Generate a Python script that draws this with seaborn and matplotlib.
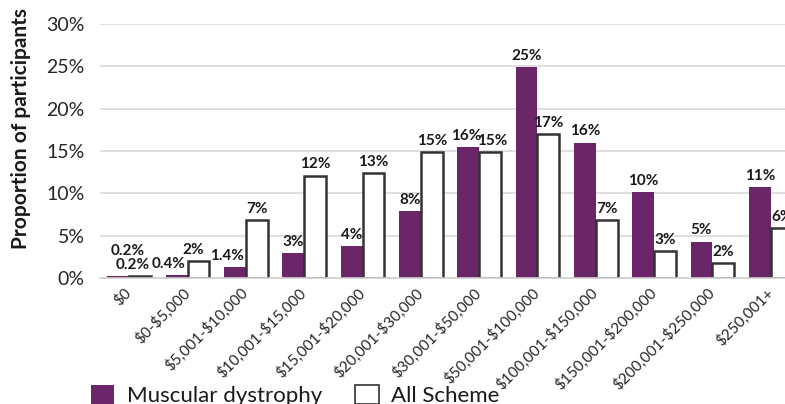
import pandas as pd
import matplotlib.pyplot as plt
import seaborn as sns
from matplotlib.patches import Patch
from matplotlib.ticker import FuncFormatter

categories = ['$0', '$0-$5,000', '$5,001-$10,000', '$10,001-$15,000', '$15,001-$20,000',
              '$20,001-$30,000', '$30,001-$50,000', '$50,001-$100,000', '$100,001-$150,000',
              '$150,001-$200,000', '$200,001-$250,000', '$250,001+']
muscular = [0.2, 0.3, 1.25, 2.95, 3.8, 7.9, 15.5, 24.9, 16.0, 10.1, 4.3, 10.7]
scheme = [0.2, 2.0, 6.85, 12.1, 12.4, 14.85, 14.85, 17.0, 6.8, 3.15, 1.75, 5.9]
muscular_labels = ['0.2%', '0.4%', '1.4%', '3%', '4%', '8%', '16%', '25%', '16%', '10%', '5%', '11%']
scheme_labels = ['0.2%', '2%', '7%', '12%', '13%', '15%', '15%', '17%', '7%', '3%', '2%', '6%']
series = ['Muscular dystrophy', 'All Scheme']

purple = '#6b2569'
df = pd.DataFrame({
    'Income': categories * 2,
    'Share': muscular + scheme,
    'Group': [series[0]] * len(categories) + [series[1]] * len(categories),
})

sns.set_style('whitegrid')
plt.rcParams['font.family'] = ['Lato', 'DejaVu Sans']
plt.rcParams['text.parse_math'] = False

fig = plt.figure(figsize=(7.85, 4.04), dpi=100)
ax = fig.add_axes([0.1274, 0.3119, 0.8917, 0.6287])

sns.barplot(data=df, x='Income', y='Share', hue='Group', order=categories,
            hue_order=series, palette={series[0]: purple, series[1]: 'white'},
            width=0.75, saturation=1, ax=ax)
ax.get_legend().remove()

for p in ax.containers[0]:
    p.set_edgecolor('none')
    p.set_linewidth(0)
for p in ax.containers[1]:
    p.set_edgecolor('#333333')
    p.set_linewidth(1.8)

# small nudges so the crowded labels don't overlap
nudge_m = {0: (7, 10), 1: (-6, 0), 2: (-6, 0), 6: (-1.5, 0)}
nudge_s = {0: (-5, 0), 1: (-4, 0), 6: (1.5, 0)}
anns_m = ax.bar_label(ax.containers[0], labels=muscular_labels, padding=3,
                      fontsize=11, fontweight='bold', color='#1a1a1a')
anns_s = ax.bar_label(ax.containers[1], labels=scheme_labels, padding=3,
                      fontsize=11, fontweight='bold', color='#1a1a1a')
for i, a in enumerate(anns_m):
    dx, dy = nudge_m.get(i, (0, 0))
    a.xyann = (dx, 3 + dy)
for i, a in enumerate(anns_s):
    dx, dy = nudge_s.get(i, (0, 0))
    a.xyann = (dx, 3 + dy)

ax.set_ylim(0, 30)
ax.set_xlim(-0.5, len(categories) - 0.5)
ax.set_yticks(range(0, 31, 5))
ax.yaxis.set_major_formatter(FuncFormatter(lambda v, _: f'{v:.0f}%'))
ax.grid(axis='y', color='#d9d9d9', linewidth=1.2)
ax.grid(axis='x', visible=False)
ax.set_axisbelow(True)
for s in ['left', 'right', 'top']:
    ax.spines[s].set_visible(False)
ax.spines['bottom'].set_color('#d0d0d0')
ax.spines['bottom'].set_linewidth(1.2)

ax.tick_params(axis='y', length=0, pad=11, labelsize=14, labelcolor='#262626')
ax.tick_params(axis='x', length=0, pad=9, labelsize=11, labelcolor='#262626')
plt.setp(ax.get_xticklabels(), rotation=45, ha='right', va='center', rotation_mode='anchor')

ax.set_xlabel('')
ax.set_ylabel('Proportion of participants', fontsize=15, fontweight='bold',
              color='#1a1a1a')
ax.yaxis.set_label_coords(-0.098, 0.59)

handles = [Patch(facecolor=purple, edgecolor='none'),
           Patch(facecolor='white', edgecolor='#333333', linewidth=1.2)]
fig.legend(handles, series, loc='lower left', bbox_to_anchor=(0.116, -0.006),
           ncol=2, frameon=False, fontsize=16, handlelength=1.05, handleheight=0.95,
           handletextpad=0.55, columnspacing=1.5, borderpad=0, borderaxespad=0,
           labelcolor='#1a1a1a')

fig.savefig('out.png', dpi=100)
